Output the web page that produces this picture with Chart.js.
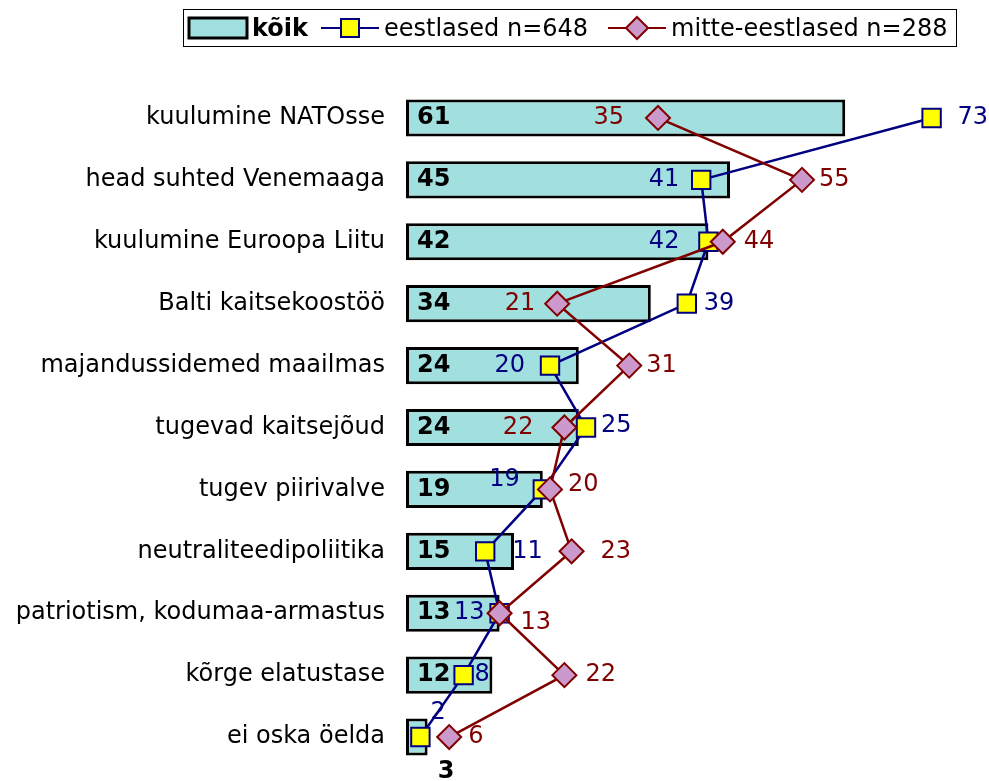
<!DOCTYPE html>
<html>
<head>
<meta charset="utf-8">
<script src="https://cdn.jsdelivr.net/npm/chart.js@4.4.0/dist/chart.umd.min.js"></script>
<style>
  html, body { margin: 0; padding: 0; background: #fff; overflow: hidden; }
  #wrap { position: relative; width: 989px; height: 781px; }
  canvas { display: block; }
  #legend {
    position: absolute; left: 183px; top: 9px; width: 774px; height: 38px;
    border: 1px solid #000; box-sizing: border-box;
    font-family: "DejaVu Sans", Verdana, sans-serif; font-size: 24px;
    display: flex; align-items: center; white-space: nowrap;
  }
  #legend span { display: inline-flex; align-items: center; }
  #legend svg { display: block; }
</style>
</head>
<body>
<div id="wrap">
  <canvas id="chart" width="989" height="781"></canvas>
  <div id="legend">
    <span style="margin-left:3px"><svg width="62" height="26"><rect x="2" y="3" width="58" height="20" fill="#a2e0e0" stroke="#000" stroke-width="3"/></svg><b style="margin-left:3px">kõik</b></span>
    <span style="margin-left:13px"><svg width="58" height="26"><line x1="0" y1="13" x2="58" y2="13" stroke="#000080" stroke-width="2"/><rect x="20" y="4" width="18" height="18" fill="#ffff00" stroke="#000080" stroke-width="2"/></svg><span style="margin-left:5px">eestlased n=648</span></span>
    <span style="margin-left:20px"><svg width="58" height="26"><line x1="0" y1="13" x2="58" y2="13" stroke="#800000" stroke-width="2"/><polygon points="29,2 40,13 29,24 18,13" fill="#cc99cc" stroke="#800000" stroke-width="2"/></svg><span style="margin-left:5px">mitte-eestlased n=288</span></span>
  </div>
</div>
<script>
const categories = [
  'kuulumine NATOsse',
  'head suhted Venemaaga',
  'kuulumine Euroopa Liitu',
  'Balti kaitsekoostöö',
  'majandussidemed maailmas',
  'tugevad kaitsejõud',
  'tugev piirivalve',
  'neutraliteedipoliitika',
  'patriotism, kodumaa-armastus',
  'kõrge elatustase',
  'ei oska öelda'
];
const koik = [61, 45, 42, 34, 24, 24, 19, 15, 13, 12, 3];
const eestlased = [73, 41, 42, 39, 20, 25, 19, 11, 13, 8, 2];
const mitteEestlased = [35, 55, 44, 21, 31, 22, 20, 23, 13, 22, 6];

// label placement (dx: + = text starts right of point, - = text ends left of point)
const eestDx = [26, -22, -29, 17, -25, 15, -23, 27, -15, 11, 10];
const eestDy = [0, 0, 0, 0, 0, -2, -10, 0, 0, 0, -24];
const mitteDx = [-34, 17, 21, -22, 17, -31, 18, 29, 21, 21, 19];
const mitteDy = [0, 0, 0, 0, 0, 0, -5, 0, 10, 0, 0];

const FONT = '"DejaVu Sans", Verdana, sans-serif';

const valueLabels = {
  id: 'valueLabels',
  afterDatasetsDraw(chart) {
    const ctx = chart.ctx;
    ctx.save();
    ctx.textBaseline = 'middle';
    const barMeta = chart.getDatasetMeta(0);
    ctx.font = 'bold 24px ' + FONT;
    ctx.fillStyle = '#000';
    barMeta.data.forEach((el, i) => {
      if (koik[i] < 5) {
        ctx.textAlign = 'center';
        ctx.fillText(String(koik[i]), el.base + 40, el.y + 35);
      } else {
        ctx.textAlign = 'left';
        ctx.fillText(String(koik[i]), el.base + 11, el.y);
      }
    });
    ctx.font = '24px ' + FONT;
    const drawSeries = (idx, vals, dx, dy, color) => {
      ctx.fillStyle = color;
      chart.getDatasetMeta(idx).data.forEach((pt, i) => {
        ctx.textAlign = dx[i] >= 0 ? 'left' : 'right';
        ctx.fillText(String(vals[i]), pt.x + dx[i], pt.y + dy[i]);
      });
    };
    drawSeries(1, eestlased, eestDx, eestDy, '#000080');
    drawSeries(2, mitteEestlased, mitteDx, mitteDy, '#800000');
    ctx.restore();
  }
};

new Chart(document.getElementById('chart'), {
  data: {
    labels: categories,
    datasets: [
      {
        type: 'bar',
        label: 'kõik',
        data: koik,
        backgroundColor: '#a2e0e0',
        borderColor: '#000',
        borderWidth: 3,
        borderSkipped: false,
        barPercentage: 0.6,
        categoryPercentage: 1,
        order: 3
      },
      {
        type: 'line',
        label: 'eestlased n=648',
        data: eestlased,
        borderColor: '#000080',
        borderWidth: 2.5,
        pointStyle: 'rect',
        pointRadius: 13,
        pointBackgroundColor: '#ffff00',
        pointBorderColor: '#000080',
        pointBorderWidth: 2,
        order: 2
      },
      {
        type: 'line',
        label: 'mitte-eestlased n=288',
        data: mitteEestlased,
        borderColor: '#800000',
        borderWidth: 2.5,
        pointStyle: 'rectRot',
        pointRadius: 12,
        pointBackgroundColor: '#cc99cc',
        pointBorderColor: '#800000',
        pointBorderWidth: 2,
        order: 1
      }
    ]
  },
  options: {
    indexAxis: 'y',
    responsive: false,
    animation: false,
    layout: { autoPadding: false, padding: { top: 87, bottom: 13, right: 7, left: 0 } },
    plugins: {
      legend: { display: false },
      tooltip: { enabled: false }
    },
    scales: {
      x: {
        min: 0,
        max: 80,
        display: false
      },
      y: {
        grid: { display: false, drawTicks: true, tickLength: 21 },
        border: { display: false },
        ticks: {
          color: '#000',
          font: { family: FONT, size: 24, lineHeight: 1 },
          padding: 0
        },
        afterFit(scale) { scale.width = 406; }
      }
    }
  },
  plugins: [valueLabels]
});
</script>
</body>
</html>
